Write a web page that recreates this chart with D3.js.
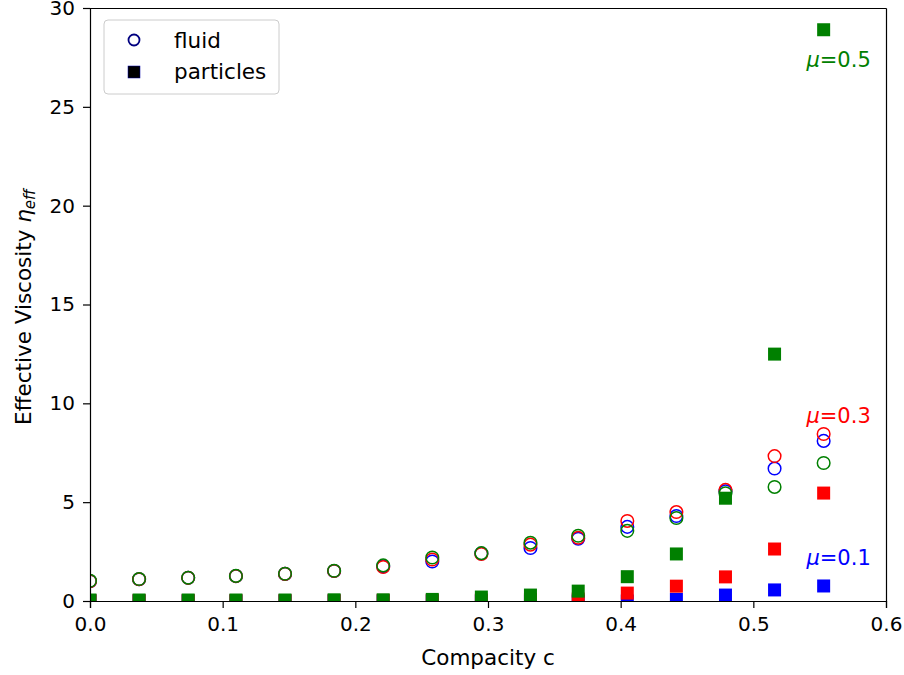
<!DOCTYPE html>
<html>
<head>
<meta charset="utf-8">
<script src="https://cdn.jsdelivr.net/npm/d3@7"></script>
<style>
  body { margin: 0; background: #fff; }
  svg { font-family: "DejaVu Sans", sans-serif; }
  .axis path, .axis line { stroke: #000; stroke-width: 1.2; }
</style>
</head>
<body>
<svg id="chart" width="904" height="675"></svg>
<script>
// compacity values (x)
var compacity = [0, 0.037, 0.074, 0.11, 0.147, 0.184, 0.221, 0.258, 0.295, 0.332, 0.368, 0.405, 0.442, 0.479, 0.516, 0.553];

// fluid viscosity, one list per friction coefficient
var fluid01 = [1.0, 1.1, 1.17, 1.26, 1.37, 1.52, 1.75, 2.0, 2.4, 2.68, 3.15, 3.75, 4.3, 5.55, 6.7, 8.1];
var fluid03 = [1.0, 1.1, 1.17, 1.26, 1.37, 1.52, 1.72, 2.1, 2.38, 2.85, 3.2, 4.05, 4.5, 5.62, 7.33, 8.45];
var fluid05 = [1.02, 1.11, 1.18, 1.27, 1.38, 1.53, 1.8, 2.2, 2.42, 2.95, 3.3, 3.55, 4.2, 5.45, 5.77, 6.98];

// particle viscosity, one list per friction coefficient
var part01 = [0, 0, 0, 0, 0, 0, 0, 0, 0, 0, 0, 0, 0.08, 0.3, 0.56, 0.76];
var part03 = [0.02, 0.02, 0.02, 0.02, 0.02, 0.02, 0.03, 0.03, 0.05, 0.08, 0.1, 0.4, 0.75, 1.22, 2.63, 5.46];
var part05 = [0.05, 0.05, 0.05, 0.05, 0.05, 0.06, 0.06, 0.08, 0.2, 0.3, 0.5, 1.23, 2.38, 5.2, 12.49, 28.9];

var xTicks = [0, 0.1, 0.2, 0.3, 0.4, 0.5, 0.6];
var yTicks = [0, 5, 10, 15, 20, 25, 30];

// friction labels: text, anchor (c, eta)
var muLabels = ["0.1", "0.3", "0.5"];
var muLabelC = [0.54, 0.54, 0.54];
var muLabelY = [1.8, 9.0, 27.0];
var muColors = ["#0000ff", "#ff0000", "#008000"];

var svg = d3.select("#chart");
var margin = {left: 90, top: 8, right: 18, bottom: 74};
var width = 904 - margin.left - margin.right,
    height = 675 - margin.top - margin.bottom;

var x = d3.scaleLinear().domain([0, 0.6]).range([0, width]);
var y = d3.scaleLinear().domain([0, 30]).range([height, 0]);

var g = svg.append("g")
    .attr("transform", "translate(" + margin.left + "," + margin.top + ")");

g.append("clipPath").attr("id", "plotArea")
  .append("rect").attr("width", width).attr("height", height);

var plot = g.append("g").attr("clip-path", "url(#plotArea)");

var fluids = [fluid01, fluid03, fluid05];
var parts = [part01, part03, part05];
var side = 13;

// drawn in the order mu=0.1, 0.3, 0.5: fluid then particles
for (var k = 0; k < 3; k++) {
  var fd = compacity.map((c, i) => ({c: c, v: fluids[k][i]}));
  var pd = compacity.map((c, i) => ({c: c, v: parts[k][i]}));
  plot.append("g").selectAll("circle").data(fd).enter().append("circle")
      .attr("cx", d => x(d.c))
      .attr("cy", d => y(d.v))
      .attr("r", 6.3)
      .attr("fill", "none")
      .attr("stroke", muColors[k])
      .attr("stroke-width", 1.5);
  plot.append("g").selectAll("rect").data(pd).enter().append("rect")
      .attr("x", d => x(d.c) - side / 2)
      .attr("y", d => y(d.v) - side / 2)
      .attr("width", side)
      .attr("height", side)
      .attr("fill", muColors[k]);
}

// axes
var xAxis = g.append("g")
    .attr("class", "axis")
    .attr("transform", "translate(0," + height + ")")
    .call(d3.axisBottom(x).tickValues(xTicks).tickFormat(d3.format(".1f")).tickSize(7).tickPadding(9));
var yAxis = g.append("g")
    .attr("class", "axis")
    .call(d3.axisLeft(y).tickValues(yTicks).tickSize(7).tickPadding(8));
[xAxis, yAxis].forEach(a => a.selectAll("text")
    .style("font-family", "DejaVu Sans, sans-serif")
    .style("font-size", "20px")
    .attr("fill", "#000"));
g.append("g")
    .attr("class", "axis")
    .attr("transform", "translate(" + width + ",0)")
    .call(d3.axisRight(y).tickValues([]).tickSizeOuter(0));
g.append("g")
    .attr("class", "axis")
    .call(d3.axisTop(x).tickValues([]).tickSizeOuter(0));

// axis labels
svg.append("text")
    .attr("x", 488)
    .attr("y", 665)
    .attr("text-anchor", "middle")
    .style("font-size", "21.5px")
    .text("Compacity c");

var yl = svg.append("text")
    .attr("transform", "translate(31,307) rotate(-90)")
    .attr("text-anchor", "middle")
    .style("font-size", "21.5px");
yl.append("tspan").text("Effective Viscosity ");
yl.append("tspan").style("font-style", "italic").text("\u03b7");
yl.append("tspan").style("font-style", "italic").style("font-size", "15px").attr("dy", 4).text("eff");

// friction labels
muLabels.forEach((m, i) => {
  var t = g.append("text")
      .attr("x", x(muLabelC[i]))
      .attr("y", y(muLabelY[i]))
      .attr("fill", muColors[i])
      .style("font-size", "21px");
  t.append("tspan").style("font-style", "italic").text("\u03bc");
  t.append("tspan").text("=" + m);
});

// legend
var lg = svg.append("g").attr("transform", "translate(104,20)");
lg.append("rect")
    .attr("width", 175).attr("height", 74).attr("rx", 4)
    .attr("fill", "#fff").attr("fill-opacity", 0.8)
    .attr("stroke", "#cccccc").attr("stroke-width", 1);
lg.append("circle").attr("cx", 30).attr("cy", 20).attr("r", 5.5)
    .attr("fill", "none").attr("stroke", "#000080").attr("stroke-width", 1.8);
lg.append("rect").attr("x", 24).attr("y", 46).attr("width", 12).attr("height", 12)
    .attr("fill", "#000").attr("stroke", "#0000aa").attr("stroke-width", 0.5);
lg.append("text").attr("x", 70).attr("y", 28).style("font-size", "21.5px").text("fluid");
lg.append("text").attr("x", 70).attr("y", 59).style("font-size", "21.5px").text("particles");
</script>
</body>
</html>
